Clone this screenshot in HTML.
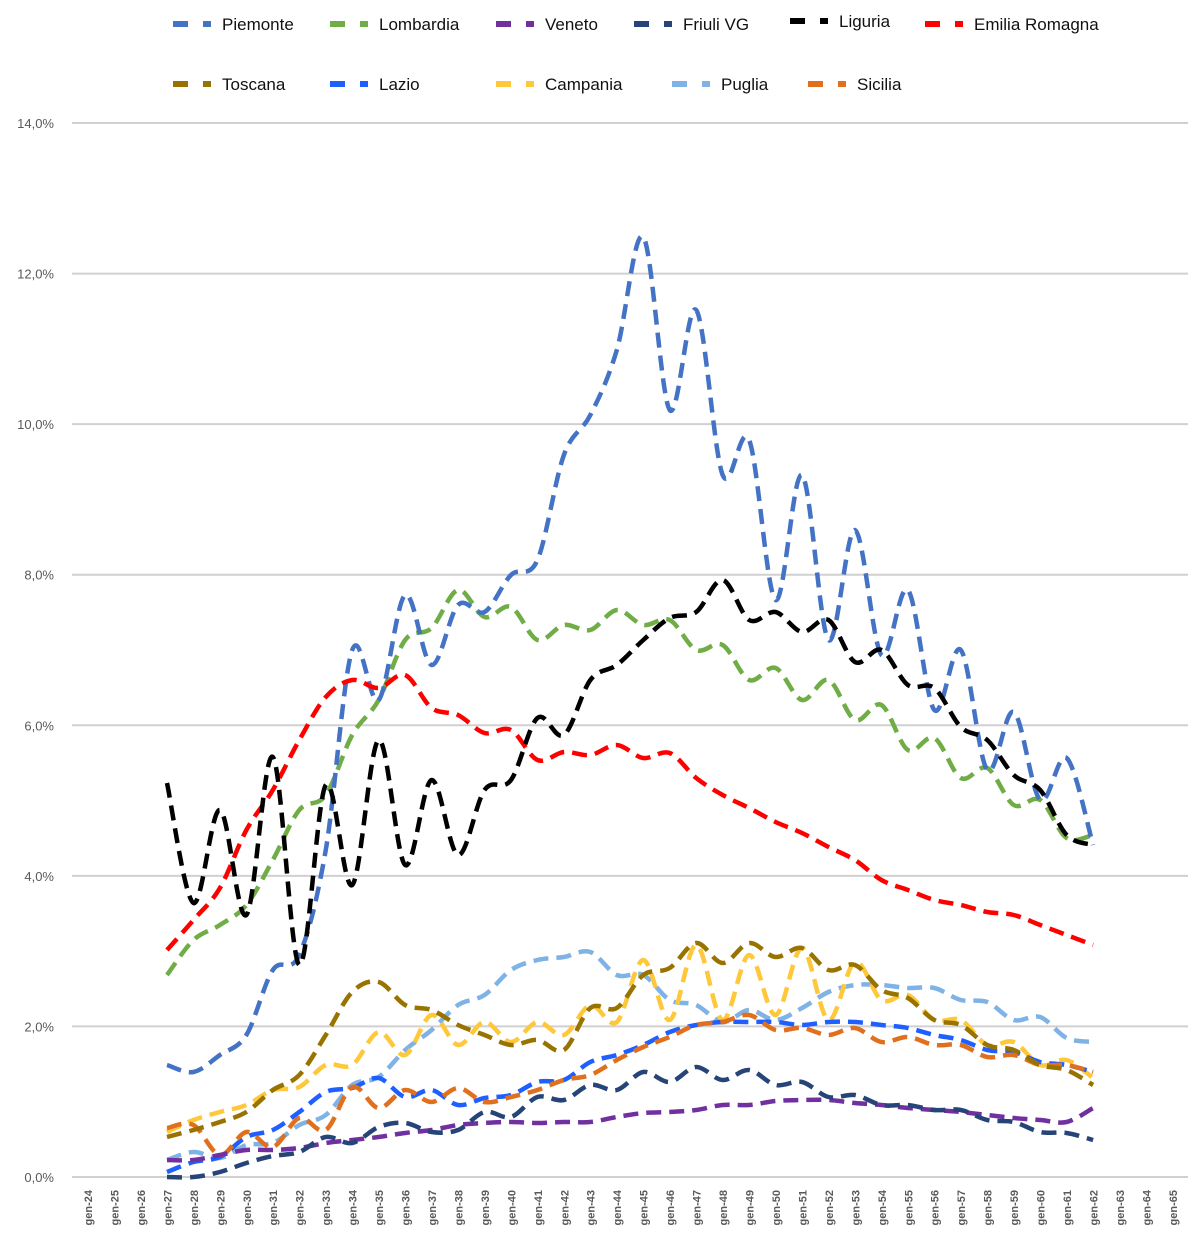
<!DOCTYPE html>
<html><head><meta charset="utf-8"><style>
html,body{margin:0;padding:0;background:#fff;width:1202px;height:1254px;overflow:hidden}
svg{display:block;font-family:"Liberation Sans",Arial,sans-serif}
</style></head><body>
<svg id="s" width="1202" height="1254" xmlns="http://www.w3.org/2000/svg">
<g id="grid" stroke="#d0d0d0" stroke-width="2"></g>
<g id="yl" fill="#595959" font-size="13" text-anchor="end"></g>
<g id="xl" fill="#595959" font-size="11" font-weight="bold"></g>
<g id="lines" fill="none" stroke-width="4.5" stroke-dasharray="15 8" stroke-linecap="butt"></g>
<g id="leg" font-size="17" fill="#111"></g>
</svg>
<script>
const NS="http://www.w3.org/2000/svg";
function el(p,t,a,txt){const e=document.createElementNS(NS,t);for(const k in a)e.setAttribute(k,a[k]);if(txt!==undefined)e.textContent=txt;document.getElementById(p).appendChild(e);return e;}
for(let i=0;i<8;i++){const y=1177-i*150.57;el('grid','line',{x1:72,x2:1188,y1:y,y2:y});el('yl','text',{x:54,y:y+5},(i*2)+',0%');}
for(let i=0;i<42;i++){const x=88+i*26.46;el('xl','text',{transform:`translate(${x+4},1190) rotate(-90)`,'text-anchor':'end'},'gen-'+(24+i));}
const S=[
['Piemonte','#4472C4',[1065,1072,1055,1035,970,955,850,650,700,595,665,605,612,575,560,455,415,350,237,410,310,475,440,600,475,640,530,655,590,710,650,770,712,800,758,845]],
['Lombardia','#70AD47',[975,940,925,905,860,810,795,735,700,640,628,590,617,607,640,625,630,610,625,620,650,645,680,668,700,680,720,705,750,738,778,768,805,800,838,835]],
['Veneto','#7030A0',[1160,1160,1155,1150,1150,1148,1143,1140,1137,1133,1130,1125,1123,1122,1123,1122,1122,1117,1113,1112,1110,1105,1105,1101,1100,1100,1103,1105,1108,1110,1112,1115,1118,1120,1122,1108]],
['Friuli VG','#264478',[1177,1177,1172,1163,1156,1152,1137,1143,1127,1123,1132,1130,1112,1117,1097,1100,1085,1090,1072,1082,1067,1080,1070,1085,1082,1097,1095,1105,1105,1110,1110,1120,1122,1132,1133,1140]],
['Liguria','#000000',[783,903,810,915,757,965,785,885,740,865,780,855,790,780,718,735,680,665,640,618,612,580,620,612,632,620,662,650,685,688,727,740,775,790,835,845]],
['Emilia Romagna','#FF0000',[950,920,888,830,790,740,697,680,688,675,708,715,733,730,760,752,755,745,758,753,778,795,808,822,833,847,860,880,890,900,905,912,915,925,935,945]],
['Toscana','#997300',[1137,1130,1122,1112,1090,1075,1035,992,982,1005,1010,1025,1035,1045,1040,1050,1008,1008,975,968,943,963,943,957,948,970,965,990,998,1020,1025,1045,1050,1065,1070,1085]],
['Lazio','#1F5FFF',[1172,1162,1157,1137,1130,1112,1092,1088,1078,1097,1090,1105,1098,1095,1082,1080,1062,1055,1045,1032,1025,1022,1022,1022,1025,1022,1022,1025,1028,1035,1040,1050,1052,1062,1065,1072]],
['Campania','#FFC83A',[1132,1120,1112,1105,1090,1087,1065,1065,1032,1055,1015,1045,1022,1042,1022,1035,1005,1022,960,1020,945,1020,955,1015,948,1020,962,1000,995,1020,1020,1045,1042,1065,1060,1078]],
['Puglia','#7FB2E5',[1160,1152,1158,1145,1143,1125,1115,1085,1077,1050,1030,1005,995,970,960,957,952,975,975,1000,1005,1022,1010,1020,1008,992,985,985,988,988,1000,1002,1020,1017,1038,1042]],
['Sicilia','#E0701E',[1128,1125,1155,1132,1147,1118,1130,1087,1108,1090,1102,1088,1102,1097,1090,1080,1075,1060,1047,1037,1025,1022,1015,1030,1028,1035,1028,1042,1037,1045,1045,1057,1055,1065,1065,1072]]
];
const order=[9,8,7,10,6,2,3,1,0,5,4];
function path(ys){const p=ys.map((y,i)=>[167+i*26.46,y]);let d=`M${p[0][0]},${p[0][1]}`;
for(let i=0;i<p.length-1;i++){const a=p[Math.max(i-1,0)],b=p[i],c=p[i+1],e=p[Math.min(i+2,p.length-1)];
d+=` C${b[0]+(c[0]-a[0])/6},${b[1]+(c[1]-a[1])/6} ${c[0]-(e[0]-b[0])/6},${c[1]-(e[1]-b[1])/6} ${c[0]},${c[1]}`;}return d;}
order.forEach(i=>el('lines','path',{d:path(S[i][2]),stroke:S[i][1]}));
const L=[[0,173,24],[1,330,24],[2,496,24],[3,634,24],[4,790,21],[5,925,24],[6,173,84],[7,330,84],[8,496,84],[9,672,84],[10,808,84]];
L.forEach(([i,x,y])=>{el('leg','rect',{x:x,y:y-3,width:15,height:6,fill:S[i][1]});el('leg','rect',{x:x+30,y:y-3,width:8,height:6,fill:S[i][1]});el('leg','text',{x:x+49,y:y+6},S[i][0]);});
</script>
</body></html>
